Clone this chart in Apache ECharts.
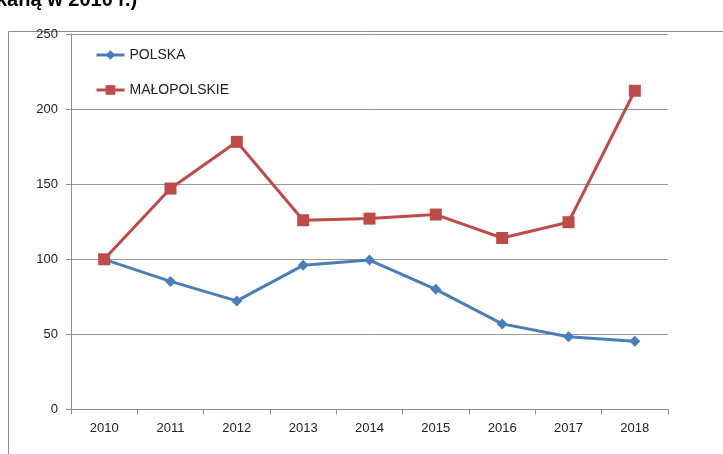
<!DOCTYPE html>
<html>
<head>
<meta charset="utf-8">
<script src="https://cdn.jsdelivr.net/npm/echarts@6/dist/echarts.min.js"></script>
<style>
  html, body { margin: 0; padding: 0; background: #fff; }
  #chart { width: 723px; height: 454px; }
</style>
</head>
<body>
<div id="chart"></div>
<script>
const years = ['2010', '2011', '2012', '2013', '2014', '2015', '2016', '2017', '2018']
const polska = [100, 85.3, 72.3, 96, 99.5, 80, 57, 48.5, 45.4]
const malopolskie = [100, 147.1, 178.2, 126, 127.1, 129.8, 114.2, 124.7, 212.2]

const labelFont = 'Liberation Sans'

const chart = echarts.init(document.getElementById('chart'))

chart.setOption({
  animation: false,
  backgroundColor: '#fff',
  graphic: [
    {
      type: 'rect',
      shape: { x: 8.5, y: 31.5, width: 760, height: 460 },
      style: { fill: 'none', stroke: '#8c8c8c', lineWidth: 1 },
      silent: true
    },
    {
      type: 'text',
      left: -4,
      top: -10,
      style: {
        text: 'kaną w 2010 r.)',
        font: 'bold 20px "Liberation Sans"',
        fill: '#000'
      }
    }
  ],
  legend: {
    orient: 'vertical',
    left: 90,
    top: 43,
    itemGap: 21,
    itemWidth: 28,
    itemHeight: 12,
    lineStyle: { width: 3 },
    textStyle: { fontFamily: labelFont, fontSize: 14, color: '#222' },
    data: ['POLSKA', 'MAŁOPOLSKIE']
  },
  grid: { left: 71, right: 55, top: 34, bottom: 44.5 },
  xAxis: {
    type: 'category',
    data: years,
    boundaryGap: true,
    axisLine: { lineStyle: { color: '#8c8c8c' } },
    axisTick: { show: true, length: 5, lineStyle: { color: '#8c8c8c' } },
    axisLabel: { fontFamily: labelFont, fontSize: 13, color: '#222', margin: 12 }
  },
  yAxis: {
    type: 'value',
    min: 0,
    max: 250,
    interval: 50,
    axisLine: { show: true, lineStyle: { color: '#8c8c8c' } },
    axisTick: { show: true, length: 5, lineStyle: { color: '#8c8c8c' } },
    axisLabel: { fontFamily: labelFont, fontSize: 13, color: '#222', margin: 13 },
    splitLine: { lineStyle: { color: '#9a9a9a' } }
  },
  series: [
    {
      name: 'POLSKA',
      type: 'line',
      data: polska,
      symbol: 'diamond',
      symbolSize: 11,
      lineStyle: { color: '#4a7ebb', width: 3 },
      itemStyle: { color: '#4a7ebb' }
    },
    {
      name: 'MAŁOPOLSKIE',
      type: 'line',
      data: malopolskie,
      symbol: 'rect',
      symbolSize: 12,
      lineStyle: { color: '#be4b48', width: 3 },
      itemStyle: { color: '#be4b48' }
    }
  ]
})
</script>
</body>
</html>
